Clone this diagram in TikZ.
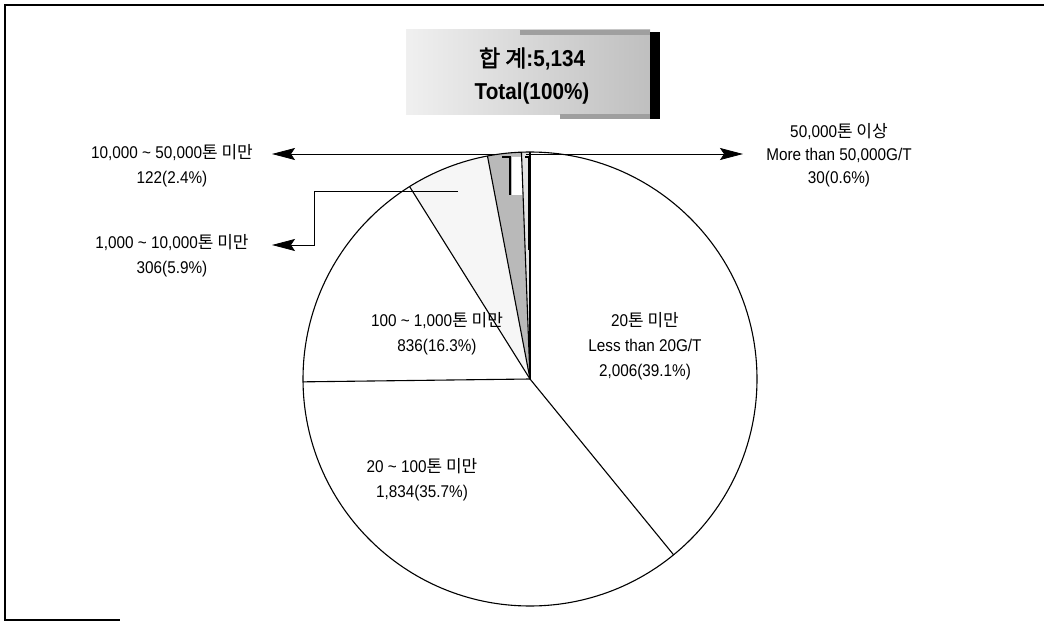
\documentclass[tikz,border=0pt]{standalone}
\usepackage{fontspec}
\setmainfont{Liberation Sans}[FakeStretch=0.9]
\newfontfamily\krfont{Noto Sans CJK KR}[AutoFakeBold=2]
\newcommand{\kr}[1]{{\krfont #1}}
\usetikzlibrary{arrows.meta}

\tikzset{
  pieline/.style={line width=1.1pt},
  lead/.style={line width=0.8pt, -{Stealth[length=23pt,width=12pt,inset=4pt]}},
  lbl/.style={align=center, font=\fontsize{17}{25}\selectfont, inner sep=0pt},
}

\begin{document}
\begin{tikzpicture}[x=1pt,y=1pt]
	\useasboundingbox (0,0) rectangle (1044,622);
	\draw[line width=2pt] (1044,617) -- (5,617) -- (5,2) -- (120,2);

	\shade[left color=gray!12, right color=gray!50] (406,507) rectangle (650,592);
	\fill[gray!75] (520,587) rectangle (650,592);
	\fill[gray!75] (560,503) rectangle (650,508);
	\fill[black] (650,503) rectangle (660,590);
	\node[font=\bfseries\fontsize{23}{33}\selectfont, align=center, inner sep=0pt] (total) at (532,546)
		{\kr{합 계}:5,134\\Total(100\%)};

	\coordinate (c) at (530,243);
	\def\rad{227}
	\fill[gray!7] (c) -- ++(122.04:\rad) arc[start angle=122.04, end angle=100.8, radius=\rad] -- cycle;
	\fill[gray!55] (c) -- ++(100.8:\rad) arc[start angle=100.8, end angle=92.16, radius=\rad] -- cycle;
	\fill[gray!22] (c) -- ++(92.16:\rad) arc[start angle=92.16, end angle=90, radius=\rad] -- cycle;
	\fill[white] (512,465) -- (512,427) -- (523,427) -- (521.6,465) -- cycle;
	\draw[line width=2.5pt] (502,465) -- (510,465) -- (510,427);
	\draw[line width=2pt] (525,465) -- (529,465) -- (529,372);
	\draw[pieline] (c) circle[radius=\rad];
	\foreach \a in {90,-50.76,-179.28,122.04,100.8,92.16}
		\draw[pieline] (c) -- ++(\a:\rad);

	\coordinate (eIn) at (496,468);
	\coordinate (fIn) at (526,468);
	\coordinate (dIn) at (458,431);
	\coordinate (dBend) at (314,431);
	\coordinate (eTip) at (272,468);
	\coordinate (dTip) at (272,377);
	\coordinate (fTip) at (743,468);
	\draw[lead] (eIn) -- (eTip);
	\draw[lead] (fIn) -- (fTip);
	\draw[lead] (dIn) -- (dBend) |- (dTip);

	\node[lbl] (lblE) at (172,456) {10,000 \textasciitilde{} 50,000\kr{톤 미만}\\122(2.4\%)};
	\node[lbl] (lblD) at (172,366) {1,000 \textasciitilde{} 10,000\kr{톤 미만}\\306(5.9\%)};
	\node[lbl, font=\fontsize{17}{23}\selectfont] (lblF) at (839,467) {50,000\kr{톤 이상}\\More than 50,000G/T\\30(0.6\%)};
	\node[lbl] (lblA) at (645,276) {20\kr{톤 미만}\\Less than 20G/T\\2,006(39.1\%)};
	\node[lbl] (lblC) at (437,288) {100 \textasciitilde{} 1,000\kr{톤 미만}\\836(16.3\%)};
	\node[lbl] (lblB) at (422,142) {20 \textasciitilde{} 100\kr{톤 미만}\\1,834(35.7\%)};
\end{tikzpicture}
\end{document}
